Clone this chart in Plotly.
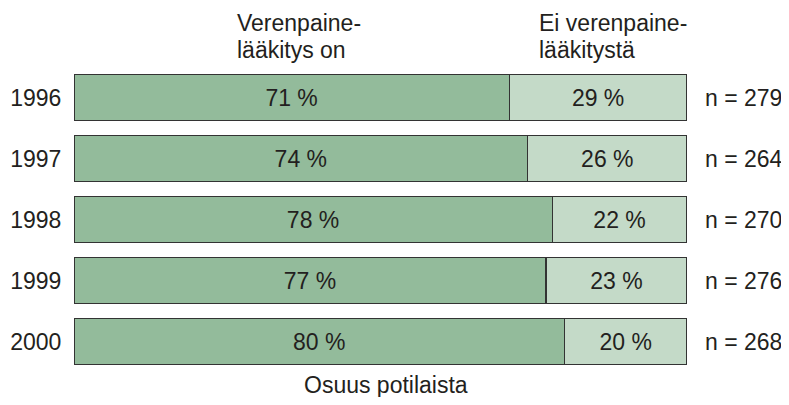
import plotly.graph_objects as go

years = ["1996", "1997", "1998", "1999", "2000"]
medicated = [71, 74, 78, 77, 80]
not_medicated = [29, 26, 22, 23, 20]
n_counts = [279, 264, 270, 276, 268]

font = "Liberation Sans, Arial, sans-serif"
ink = "#231f20"
fs = 23
rows = list(range(len(years)))

fig = go.Figure()
fig.add_trace(go.Bar(
    y=rows, x=medicated, orientation="h",
    marker=dict(color="#93bb9b", line=dict(color="#333333", width=1.2)),
    text=[f"{v} %" for v in medicated], textposition="inside",
    insidetextanchor="middle", textfont=dict(size=fs, color=ink, family=font),
    width=0.755, showlegend=False,
))
fig.add_trace(go.Bar(
    y=rows, x=not_medicated, orientation="h",
    marker=dict(color="#c4dac8", line=dict(color="#333333", width=1.2)),
    text=[f"{v} %" for v in not_medicated], textposition="inside",
    insidetextanchor="middle", textfont=dict(size=fs, color=ink, family=font),
    width=0.755, showlegend=False,
))

# n-labels on the right
for r, n in zip(rows, n_counts):
    fig.add_annotation(x=1.026, xref="paper", y=r, yref="y", text=f"n = {n}",
                       showarrow=False, xanchor="left",
                       font=dict(size=fs, color=ink, family=font))

# column headers, one annotation per line
headers = [(26.3, ["Verenpaine-", "lääkitys on"]),
           (75.5, ["Ei verenpaine-", "lääkitystä"])]
for x, lines in headers:
    for yy, line in zip([1.143, 1.057], lines):
        fig.add_annotation(x=x, xref="x", y=yy, yref="paper", text=line,
                           showarrow=False, xanchor="left", yanchor="middle",
                           font=dict(size=fs, color=ink, family=font))

# axis title
fig.add_annotation(x=0.509, xref="paper", y=-0.044, yref="paper",
                   text="Osuus potilaista", showarrow=False,
                   xanchor="center", yanchor="middle",
                   font=dict(size=fs, color=ink, family=font))

fig.update_layout(
    barmode="stack",
    width=773, height=389,
    margin=dict(l=66, r=94, t=59, b=25),
    plot_bgcolor="white", paper_bgcolor="white",
    font=dict(family=font, size=fs, color=ink),
    xaxis=dict(range=[0, 100], visible=False),
    yaxis=dict(range=[4.5, -0.5], tickmode="array", tickvals=rows,
               ticktext=years, showgrid=False, zeroline=False,
               showline=False, ticks="outside", ticklen=7, automargin=False,
               tickcolor="rgba(0,0,0,0)",
               tickfont=dict(size=fs, color=ink, family=font)),
)

fig.write_html("out.html")
